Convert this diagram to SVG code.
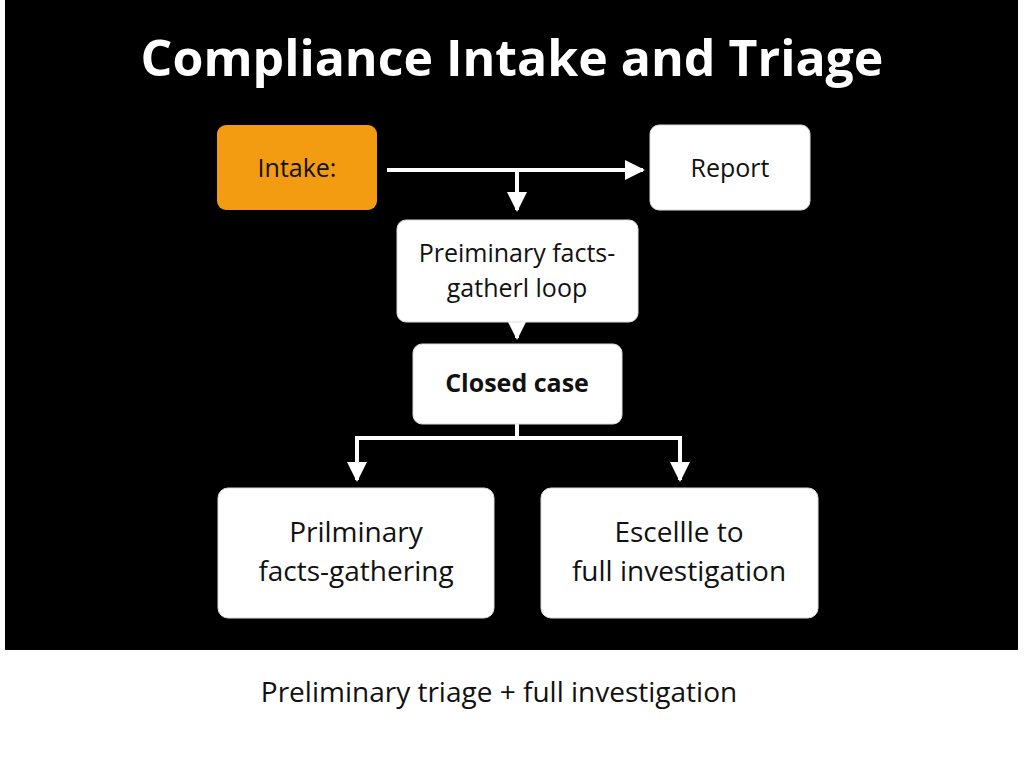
<svg xmlns="http://www.w3.org/2000/svg" width="1024" height="768" viewBox="0 0 1024 768">
<style>
.box{fill:#fff;stroke:#ddd;stroke-width:1}
.t{font-family:"Open Sans","Liberation Sans",sans-serif;fill:#111;text-anchor:middle}
.c{stroke:#fff;stroke-width:4;fill:none}
</style>
<defs><marker id="a" viewBox="0 0 10 10" refX="9" refY="5" markerWidth="5" markerHeight="5" orient="auto"><path d="M0,0L10,5L0,10z" fill="#fff"/></marker></defs>
<rect width="1024" height="768" fill="#fff"/>
<rect x="5" y="0" width="1013" height="650" fill="#000"/>
<text x="512" y="76" font-family="Open Sans,Liberation Sans,sans-serif" font-size="50" font-weight="bold" fill="#fff" text-anchor="middle">Compliance Intake and Triage</text>
<g id="connectors">
<path class="c" d="M387,170H643" marker-end="url(#a)"/>
<path class="c" d="M517,170V210" marker-end="url(#a)"/>
<path class="c" d="M517,322V338" marker-end="url(#a)"/>
<path class="c" d="M517,424V438M357,480V438H680V480"/>
<path class="c" d="M357,460V480" marker-end="url(#a)"/>
<path class="c" d="M680,460V480" marker-end="url(#a)"/>
</g>
<g id="intake"><rect x="217" y="125" width="160" height="85" rx="9" fill="#F39C12"/><text class="t" x="297" y="177" font-size="25">Intake:</text></g>
<g id="report"><rect class="box" x="650" y="125" width="160" height="85" rx="9"/><text class="t" x="730" y="177" font-size="25">Report</text></g>
<g id="prelim"><rect class="box" x="397" y="220" width="241" height="102" rx="9"/><text class="t" x="517" y="262" font-size="25">Preiminary facts-</text><text class="t" x="517" y="297" font-size="25">gatherl loop</text></g>
<g id="closed"><rect class="box" x="413" y="344" width="209" height="80" rx="9"/><text class="t" x="517" y="392" font-size="25" font-weight="bold">Closed case</text></g>
<g id="facts"><rect class="box" x="218" y="488" width="276" height="130" rx="10"/><text class="t" x="356" y="542" font-size="28">Prilminary</text><text class="t" x="356" y="581" font-size="28">facts-gathering</text></g>
<g id="escalate"><rect class="box" x="541" y="488" width="277" height="130" rx="10"/><text class="t" x="679" y="542" font-size="28">Escellle to</text><text class="t" x="679" y="581" font-size="28">full investigation</text></g>
<text class="t" x="499" y="702" font-size="28">Preliminary triage + full investigation</text>
</svg>
